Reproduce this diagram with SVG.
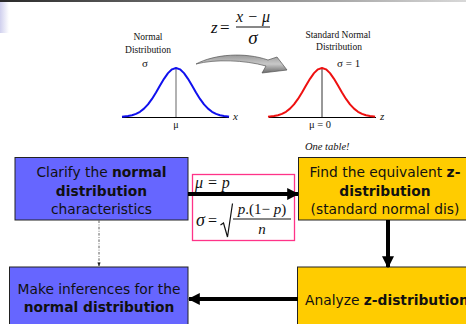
<svg xmlns="http://www.w3.org/2000/svg" width="466" height="324" viewBox="0 0 466 324">
<defs>
<linearGradient id="topbar" x1="0" y1="0" x2="1" y2="0">
<stop offset="0" stop-color="#2a2a2a"/><stop offset="1" stop-color="#d8d8d8"/>
</linearGradient>
<linearGradient id="leftstrip" x1="0" y1="0" x2="1" y2="0">
<stop offset="0" stop-color="#d0d0ee"/><stop offset="1" stop-color="#ffffff"/>
</linearGradient>
<linearGradient id="curvy" x1="0" y1="0" x2="0" y2="1">
<stop offset="0" stop-color="#9a9a9a"/><stop offset="0.5" stop-color="#c8c8c8"/><stop offset="1" stop-color="#6a6a6a"/>
</linearGradient>
<marker id="ah" viewBox="0 0 10 10" refX="9" refY="5" markerWidth="3" markerHeight="3" orient="auto" markerUnits="strokeWidth">
<path d="M0,0 L10,5 L0,10 z" fill="#000"/>
</marker>
<marker id="ahs" viewBox="0 0 10 10" refX="9" refY="5" markerWidth="5" markerHeight="5" orient="auto" markerUnits="strokeWidth">
<path d="M0,1 L10,5 L0,9 z" fill="#222"/>
</marker>
</defs>
<style>
.box{stroke:#222;stroke-width:1}
.blue{fill:#6666ff}
.yel{fill:#ffcc00}
.bt{font-family:"DejaVu Sans",Verdana,sans-serif;font-size:13.8px;fill:#111;text-anchor:middle}
.b{font-weight:bold}
.ser{font-family:"Liberation Serif","Times New Roman",serif;fill:#111}
.lbl{font-size:9.5px;text-anchor:middle}
.it{font-style:italic}
.axis{stroke:#000;stroke-width:1;fill:none}
.conn{stroke:#000;stroke-width:4;fill:none}
</style>
<rect width="466" height="324" fill="#fff"/>
<rect x="0" y="0" width="466" height="2" fill="url(#topbar)"/>
<rect x="0" y="2" width="9" height="31" fill="url(#leftstrip)"/>

<g id="figure-normal">
<text class="ser lbl" x="148" y="40">Normal</text>
<text class="ser lbl" x="148" y="53">Distribution</text>
<text class="ser" x="145" y="67" font-size="11" text-anchor="middle">σ</text>
<line x1="176" y1="68" x2="176" y2="117" stroke="#999" stroke-width="1.5"/>
<line class="axis" x1="122" y1="117.5" x2="229" y2="117.5"/>
<polyline fill="none" stroke="#1010ee" stroke-width="2" stroke-linejoin="round" points="122,116.8 124,116.54 128,116.09 132,115.28 136,113.92 140,111.79 144,108.66 148,104.38 152,98.91 156,92.48 160,85.53 164,78.81 168,73.13 172,69.34 176,68 180,69.34 184,73.13 188,78.81 192,85.53 196,92.48 200,98.91 204,104.38 208,108.66 212,111.79 216,113.92 220,115.28 224,116.09 228,116.54 229,116.8"/>
<text class="ser it" x="233" y="120" font-size="11">x</text>
<text class="ser" x="176" y="128" font-size="10" text-anchor="middle">μ</text>
</g>

<g id="figure-formula">
<text class="ser it" x="211" y="33" font-size="17">z</text>
<text class="ser" x="220" y="33" font-size="17">=</text>
<text class="ser it" x="253" y="22" font-size="16" text-anchor="middle">x − μ</text>
<line x1="236" y1="27" x2="270" y2="27" stroke="#111" stroke-width="1"/>
<text class="ser it" x="253" y="44" font-size="19" text-anchor="middle">σ</text>
</g>

<g id="figure-arrow">
<path d="M196,64 C215,54 245,52 268,60 L277,57 L287,70 L262,73 L266,66 C245,60 215,59 196,64 Z" fill="url(#curvy)" stroke="#555" stroke-width="0.7"/>
</g>

<g id="figure-standard">
<text class="ser lbl" x="338" y="38">Standard Normal</text>
<text class="ser lbl" x="339" y="50">Distribution</text>
<text class="ser" x="337" y="67" font-size="11">σ = 1</text>
<line x1="322" y1="68" x2="322" y2="117" stroke="#333" stroke-width="1"/>
<line class="axis" x1="269" y1="117.5" x2="376" y2="117.5"/>
<polyline fill="none" stroke="#ee1010" stroke-width="2" stroke-linejoin="round" points="268,116.8 270,116.54 274,116.09 278,115.28 282,113.92 286,111.79 290,108.66 294,104.38 298,98.91 302,92.48 306,85.53 310,78.81 314,73.13 318,69.34 322,68 326,69.34 330,73.13 334,78.81 338,85.53 342,92.48 346,98.91 350,104.38 354,108.66 358,111.79 362,113.92 366,115.28 370,116.09 374,116.54 375,116.8"/>
<text class="ser it" x="380" y="120" font-size="11">z</text>
<text class="ser" x="320" y="128" font-size="10.5" text-anchor="middle">μ = 0</text>
</g>

<text class="ser it" x="305" y="150" font-size="10.5">One table!</text>

<g id="formula">
<rect x="192.5" y="174.5" width="102" height="66" fill="#fff" stroke="#ff3388" stroke-width="1.3"/>
<text class="ser it" x="195" y="188" font-size="16">μ = p</text>
<text class="ser it" x="196" y="226" font-size="18">σ</text>
<text class="ser" x="208" y="226" font-size="16">=</text>
<path d="M220.5,225 L223.5,223 L227.5,237 L232.5,203.5" fill="none" stroke="#111" stroke-width="1.2"/>
<text class="ser" x="262" y="214" font-size="15" text-anchor="middle"><tspan class="it">p</tspan>.(1− <tspan class="it">p</tspan>)</text>
<line x1="233" y1="219" x2="291" y2="219" stroke="#111" stroke-width="1"/>
<text class="ser it" x="262" y="234" font-size="15" text-anchor="middle">n</text>
</g>

<g id="node-clarify">
<rect class="box blue" x="15" y="157.5" width="173" height="62.5"/>
<text class="bt" x="101.5" y="176.5">Clarify the <tspan class="b">normal</tspan></text>
<text class="bt b" x="101.5" y="195.5">distribution</text>
<text class="bt" x="101.5" y="214">characteristics</text>
</g>

<g id="node-find">
<rect class="box yel" x="298.5" y="157.5" width="180" height="62.5"/>
<text class="bt" x="385" y="176.5">Find the equivalent <tspan class="b">z-</tspan></text>
<text class="bt b" x="385" y="195.5">distribution</text>
<text class="bt" x="385" y="214">(standard normal dis)</text>
</g>

<g id="node-inferences">
<rect class="box blue" x="9.5" y="267" width="178.5" height="80"/>
<text class="bt" x="99" y="293.5">Make inferences for the</text>
<text class="bt b" x="99" y="312">normal distribution</text>
</g>

<g id="node-analyze">
<rect class="box yel" x="297.5" y="267" width="190" height="80"/>
<text class="bt" x="305" y="305" style="text-anchor:start">Analyze <tspan class="b">z-distribution</tspan></text>
</g>

<g id="connectors">
<line class="conn" x1="188" y1="194" x2="298" y2="194" marker-end="url(#ah)"/>
<line class="conn" x1="388" y1="220" x2="388" y2="267" marker-end="url(#ah)"/>
<line class="conn" x1="298" y1="299" x2="189" y2="299" marker-end="url(#ah)"/>
<line x1="99" y1="220.5" x2="99" y2="266" stroke="#333" stroke-width="0.8" stroke-dasharray="2.5,1.5,0.8,1.5" marker-end="url(#ahs)"/>
</g>
</svg>
